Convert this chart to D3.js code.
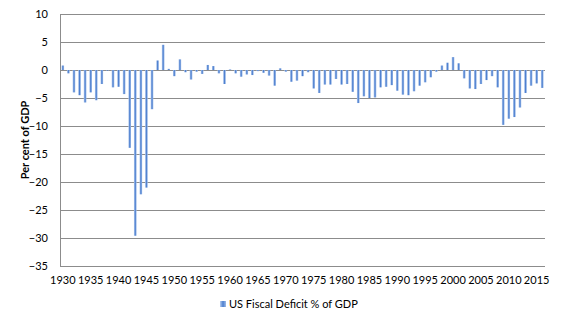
<!DOCTYPE html>
<html><head><meta charset="utf-8">
<script src="https://cdn.jsdelivr.net/npm/d3@7"></script>
<style>body{margin:0;background:#fff}svg{display:block}text{font-family:Lato,"Open Sans",sans-serif;fill:#000}</style>
</head><body><svg id="c" width="568" height="325"></svg>
<script>
const years = d3.range(1930, 2017);
const deficit = [0.8,-0.6,-4.0,-4.5,-5.8,-4.0,-5.4,-2.5,-0.1,-3.1,
 -3.0,-4.3,-13.9,-29.6,-22.2,-21.0,-7.0,1.7,4.5,0.2,
 -1.1,1.9,-0.4,-1.7,-0.3,-0.7,0.9,0.7,-0.6,-2.5,
 0.1,-0.6,-1.2,-0.8,-0.9,-0.2,-0.5,-1.0,-2.8,0.3,
 -0.3,-2.1,-1.9,-1.1,-0.4,-3.3,-4.1,-2.6,-2.6,-1.6,
 -2.6,-2.5,-3.9,-5.9,-4.7,-5.0,-4.9,-3.1,-3.0,-2.7,
 -3.7,-4.4,-4.5,-3.8,-2.8,-2.2,-1.3,-0.3,0.8,1.3,
 2.3,1.2,-1.5,-3.3,-3.4,-2.5,-1.8,-1.1,-3.1,-9.8,
 -8.7,-8.4,-6.7,-4.1,-2.8,-2.4,-3.2];
const yTicks = [10,5,0,-5,-10,-15,-20,-25,-30,-35];
const xLabels = d3.range(1930, 2016, 5);
const seriesName = "US Fiscal Deficit % of GDP";
const yTitle = "Per cent of GDP";

const svg = d3.select("#c");
const L = 60, R = 545, T = 14, B = 266;
const x = d3.scaleBand().domain(years).range([L, R]);
const y = d3.scaleLinear().domain([-35, 10]).range([B, T]);

const defs = svg.append("defs");
const g = defs.append("linearGradient").attr("id","bg").attr("x1","0").attr("x2","1").attr("y1","0").attr("y2","0");
g.append("stop").attr("offset","0").attr("stop-color","#b7cdef");
g.append("stop").attr("offset","0.5").attr("stop-color","#4d7fcf");
g.append("stop").attr("offset","1").attr("stop-color","#9dbbe8");

// gridlines
svg.append("g").selectAll("line").data(yTicks).join("line")
  .attr("x1", L).attr("x2", R).attr("y1", d => Math.round(y(d))+0.5).attr("y2", d => Math.round(y(d))+0.5)
  .attr("stroke", "#8c8c8c").attr("stroke-width", 1);
svg.append("line").attr("x1", L+0.5).attr("x2", L+0.5).attr("y1", T).attr("y2", B+0.5)
  .attr("stroke", "#8c8c8c");

// y axis
const yAxis = d3.axisLeft(y).tickValues(yTicks).tickSize(0).tickPadding(12);
const ya = svg.append("g").attr("transform", `translate(${L},0)`).call(yAxis);
ya.select(".domain").remove();
ya.selectAll("text").style("font-size","11px").style("font-family","Lato,'Open Sans',sans-serif");

// x axis
const xAxis = d3.axisBottom(x).tickValues(xLabels).tickSize(0).tickPadding(10);
const xa = svg.append("g").attr("transform", `translate(0,${B})`).call(xAxis);
xa.select(".domain").remove();
xa.selectAll("text").style("font-size","11px").style("font-family","Lato,'Open Sans',sans-serif");

// bars
const bw = 2.6;
svg.append("g").selectAll("rect").data(years.map((yr,i)=>({yr, v: deficit[i]}))).join("rect")
  .attr("x", d => x(d.yr) + x.bandwidth()/2 - bw/2)
  .attr("width", bw)
  .attr("y", d => y(Math.max(0, d.v)))
  .attr("height", d => Math.abs(y(d.v) - y(0)))
  .attr("fill", "url(#bg)");

// y title
svg.append("text").attr("transform", `translate(29,${(T+B)/2}) rotate(-90)`)
  .attr("text-anchor","middle").style("font-size","11px").style("font-weight","bold").text(yTitle);

// legend
svg.append("rect").attr("x", 220).attr("y", 301).attr("width", 6).attr("height", 6).attr("fill", "url(#bg)");
svg.append("text").attr("x", 229).attr("y", 308).style("font-size","11px").text(seriesName);
</script></body></html>
